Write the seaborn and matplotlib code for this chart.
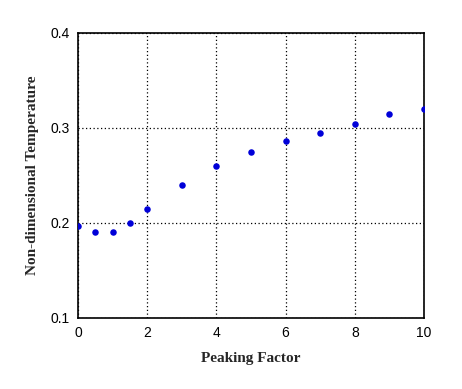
import matplotlib
matplotlib.use("Agg")
import matplotlib.pyplot as plt
import seaborn as sns
import pandas as pd
from matplotlib.ticker import MultipleLocator

peaking_factor = [0, 0.5, 1, 1.5, 2, 3, 4, 5, 6, 7, 8, 9, 10]
temperature = [0.196, 0.1905, 0.1905, 0.2, 0.2147, 0.24, 0.26, 0.2747, 0.2853, 0.2947, 0.3042, 0.3147, 0.32]
x_ticks = [0, 2, 4, 6, 8, 10]
y_ticks = [0.1, 0.2, 0.3, 0.4]

df = pd.DataFrame({"Peaking Factor": peaking_factor, "T": temperature})

sns.set_style("white")
plt.rcParams['font.family'] = ['Liberation Sans', 'DejaVu Sans']

fig = plt.figure(figsize=(4.62, 3.89), dpi=100)
ax = fig.add_axes([78/462, 1-317.5/389, (424-78)/462, (317.5-32.5)/389])

sns.scatterplot(data=df, x="Peaking Factor", y="T", ax=ax, color="#0000d8",
                s=22, edgecolor="#0000d8", linewidth=0, zorder=3, legend=False)

ax.set_xlim(0, 10)
ax.set_ylim(0.1, 0.4)
ax.set_xticks(x_ticks)
ax.set_xticklabels([str(v) for v in x_ticks])
ax.set_yticks(y_ticks)
ax.set_yticklabels([f"{v:.1f}" for v in y_ticks])
ax.xaxis.set_minor_locator(MultipleLocator(1))
ax.yaxis.set_minor_locator(MultipleLocator(0.05))
ax.tick_params(axis='both', which='both', direction='in', colors='black',
               labelsize=10, top=False, right=False)
ax.tick_params(which='major', length=0, pad=6)
ax.tick_params(which='minor', length=4, width=1)
ax.grid(True, which='major', color='black', linestyle=(0, (1, 2)), linewidth=0.9)
for s in ax.spines.values():
    s.set_color('black')
    s.set_linewidth(1.2)

ax.set_xlabel("Peaking Factor", fontfamily="Liberation Serif", fontweight="bold",
              fontsize=11, labelpad=9)
ax.set_ylabel("Non-dimensional Temperature", fontfamily="Liberation Serif",
              fontweight="bold", fontsize=11, labelpad=8)

fig.savefig("out.png", dpi=100)
